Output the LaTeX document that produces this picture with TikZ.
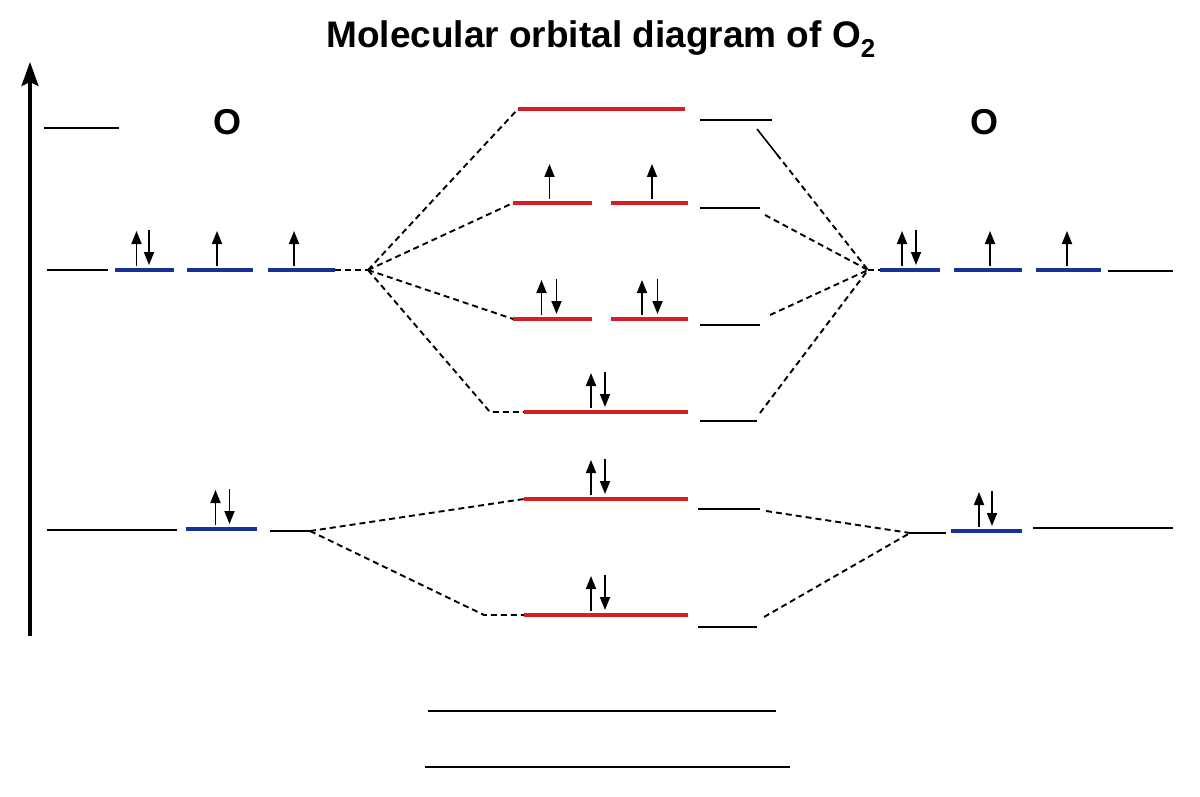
\documentclass[tikz,border=0pt]{standalone}
\usepackage{fontspec}
\setmainfont{Liberation Sans}
\usetikzlibrary{arrows.meta, calc}
\definecolor{mo_red}{RGB}{214,30,38}
\definecolor{ao_blue}{RGB}{22,50,150}
\newcommand{\spinup}[2]{\draw[spin] ([shift={(#2,-4)}]#1.center) -- ++(0,-35);}
\newcommand{\spindown}[2]{\draw[spin] ([shift={(#2,-40)}]#1.center) -- ++(0,35);}

\begin{document}
\begin{tikzpicture}[x=1pt, y=-1pt,
						ref_line/.style={inner sep=0, outer sep=0, minimum height=1.5pt, fill=black},
						ao/.style={ref_line, minimum height=4pt, fill=ao_blue},
						mo/.style={ref_line, minimum height=4pt, fill=mo_red},
						corr/.style={draw, dash pattern=on 6pt off 4pt, line width=1.9pt},
						spin/.style={draw, line width=1.8pt, -{Triangle[width=10pt,length=13pt]}},
						atom/.style={font=\bfseries\fontsize{36}{42}\selectfont},]
		\useasboundingbox[fill=white] (0,0) rectangle (1200,797);

		\node (title) [anchor=base, font=\bfseries\fontsize{37}{42}\selectfont] at (601,48) {Molecular orbital diagram of O\textsubscript{2}};
		\node (o_left) [atom] at (227,122) {O};
		\node (o_right) [atom] at (984,122) {O};

		\coordinate (axis_foot) at (30,636);
		\coordinate (axis_top) at (30,62);
		\draw[line width=3.5pt, -{Stealth[length=24pt,width=17pt,inset=4pt]}] (axis_foot) -- (axis_top);

		\node (l_top) [ref_line, minimum width=75pt] at (81.5,128) {};
		\node (l_2p_ref) [ref_line, minimum width=61pt] at (77.5,270) {};
		\node (l_2p_a) [ao, minimum width=59pt] at (144.5,270) {};
		\node (l_2p_b) [ao, minimum width=66pt] at (220,270) {};
		\node (l_2p_c) [ao, minimum width=67pt] at (301.5,270) {};
		\node (l_2s_ref) [ref_line, minimum width=130pt] at (112,530) {};
		\node (l_2s) [ao, minimum width=71pt] at (221.5,529) {};
		\node (l_2s_tail) [ref_line, minimum width=40pt] at (290,531) {};

		\node (s_star_2p) [mo, minimum width=167pt] at (601.5,109) {};
		\node (pi_star_a) [mo, minimum width=79pt] at (552.5,203) {};
		\node (pi_star_b) [mo, minimum width=77pt] at (649.5,203) {};
		\node (pi_a) [mo, minimum width=79pt] at (552.5,319) {};
		\node (pi_b) [mo, minimum width=77pt] at (649.5,319) {};
		\node (s_2p) [mo, minimum width=164pt] at (606,412) {};
		\node (s_star_2s) [mo, minimum width=164pt] at (606,499) {};
		\node (s_2s) [mo, minimum width=164pt] at (606,615) {};

		\node (r_1) [ref_line, minimum width=72pt] at (736,120) {};
		\node (r_2) [ref_line, minimum width=60pt] at (730,208) {};
		\node (r_3) [ref_line, minimum width=60pt] at (730,325) {};
		\node (r_4) [ref_line, minimum width=57pt] at (728.5,421) {};
		\node (r_5) [ref_line, minimum width=62pt] at (729,509) {};
		\node (r_6) [ref_line, minimum width=59pt] at (727.5,627) {};

		\node (r_2p_a) [ao, minimum width=60pt] at (910,270) {};
		\node (r_2p_b) [ao, minimum width=68pt] at (988,270) {};
		\node (r_2p_c) [ao, minimum width=65pt] at (1068.5,270) {};
		\node (r_2p_ref) [ref_line, minimum width=65pt] at (1140.5,271) {};
		\node (r_2s_head) [ref_line, minimum width=36pt] at (928,533) {};
		\node (r_2s) [ao, minimum width=71pt] at (986.5,531) {};
		\node (r_2s_ref) [ref_line, minimum width=140pt] at (1103,528) {};

		\node (bottom_a) [ref_line, minimum width=348pt] at (602,711) {};
		\node (bottom_b) [ref_line, minimum width=365pt] at (607.5,767) {};

		\coordinate (fan_l2p) at (368,270);
		\coordinate (fan_r2p) at (868,270);

		\draw[corr] (l_2p_c.east) -- (fan_l2p);
		\draw[corr] (fan_l2p) -- (s_star_2p.west);
		\draw[corr] (fan_l2p) -- (pi_star_a.west);
		\draw[corr] (fan_l2p) -- (pi_a.west);
		\draw[corr] (fan_l2p) -- ([xshift=-34pt]s_2p.west) -- (s_2p.west);
		\draw[corr] (l_2s_tail.east) -- (s_star_2s.west);
		\draw[corr] (l_2s_tail.east) -- ([xshift=-40pt]s_2s.west) -- (s_2s.west);

		\coordinate (r1_start) at ([shift={(-15,9)}]r_1.east);
		\draw[line width=1.6pt] (r1_start) -- ($(r1_start)!0.18!(fan_r2p)$) coordinate (r1_mid);
		\draw[corr] (r1_mid) -- (fan_r2p);
		\draw[corr] ([shift={(5,7)}]r_2.east) -- (fan_r2p);
		\draw[corr] ([shift={(10,-10)}]r_3.east) -- (fan_r2p);
		\draw[corr] ([shift={(3,-8)}]r_4.east) -- (fan_r2p);
		\draw[corr] (fan_r2p) -- (r_2p_a.west);
		\draw[corr] ([shift={(6,2)}]r_5.east) -- (r_2s_head.west);
		\draw[corr] ([shift={(7,-10)}]r_6.east) -- (r_2s_head.west);

		\spinup{l_2p_a}{-8} \spindown{l_2p_a}{4.5}
		\spinup{l_2p_b}{-3}
		\spinup{l_2p_c}{-7.5}
		\spinup{l_2s}{-6} \spindown{l_2s}{8}
		\spinup{pi_star_a}{-3}
		\spinup{pi_star_b}{2.5}
		\spinup{pi_a}{-11} \spindown{pi_a}{4}
		\spinup{pi_b}{-7.5} \spindown{pi_b}{8}
		\spinup{s_2p}{-15} \spindown{s_2p}{-1}
		\spinup{s_star_2s}{-15} \spindown{s_star_2s}{-1}
		\spinup{s_2s}{-15} \spindown{s_2s}{-1}
		\spinup{r_2p_a}{-8} \spindown{r_2p_a}{6}
		\spinup{r_2p_b}{2}
		\spinup{r_2p_c}{-1.5}
		\spinup{r_2s}{-7.5} \spindown{r_2s}{5.5}
	\end{tikzpicture}
\end{document}
